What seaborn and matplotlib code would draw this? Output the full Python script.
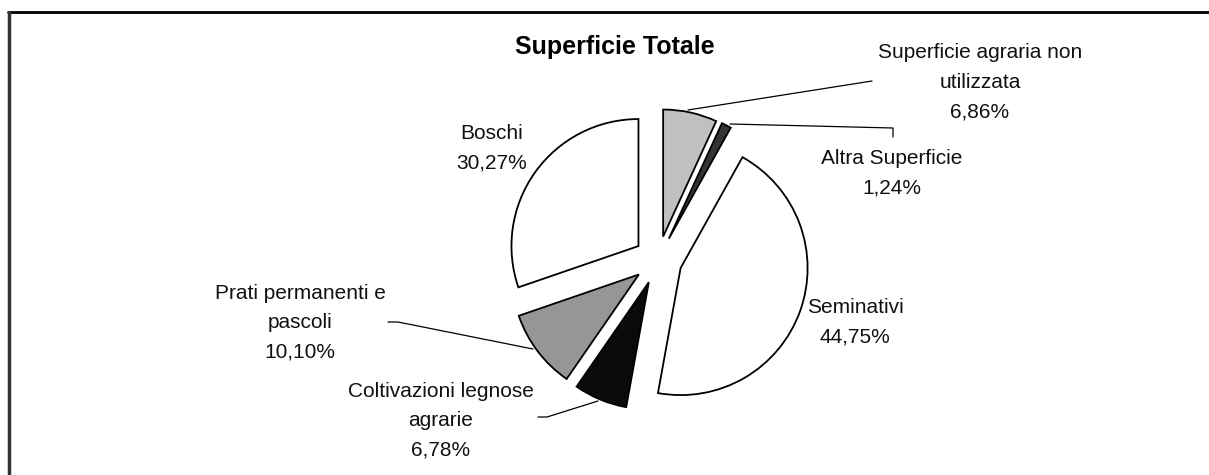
import matplotlib
matplotlib.use("Agg")
import matplotlib.pyplot as plt
import seaborn as sns

# ---- data ----
categories = [
    "Superficie agraria non\nutilizzata",
    "Altra Superficie",
    "Seminativi",
    "Coltivazioni legnose\nagrarie",
    "Prati permanenti e\npascoli",
    "Boschi",
]
values = [6.86, 1.24, 44.75, 6.78, 10.10, 30.27]
colors = ["#c0c0c0", "#333333", "#ffffff", "#0a0a0a", "#969696", "#ffffff"]
title = "Superficie Totale"

sns.set_theme(style="white")
plt.rcParams["font.family"] = ["Liberation Sans", "DejaVu Sans"]

W, H = 1209, 475
fig = plt.figure(figsize=(W / 100, H / 100), dpi=100)
ax = fig.add_axes([0, 0, 1, 1])


def Y(y):
    return H - y


# pie layout (pixel units)
cx, cy, R, expl = 658, 260, 127, 24
ax.pie(values, colors=colors, startangle=90, counterclock=False,
       center=(cx, Y(cy)), radius=R, explode=[expl] * len(values),
       wedgeprops=dict(edgecolor="black", linewidth=1.3), frame=True)
ax.set_xlim(0, W)
ax.set_ylim(0, H)
ax.set_aspect("equal")
ax.axis("off")

# labels
label_pos = [(980, 82), (892, 173), (855, 322), (441, 421), (300, 323), (492, 148)]
for name, v, (lx, ly) in zip(categories, values, label_pos):
    pct = f"{v:.2f}".replace(".", ",") + "%"
    ax.text(lx, Y(ly), f"{name}\n{pct}", ha="center", va="center",
            fontsize=15, color="#111111", linespacing=1.7)

# leader lines
leaders = [
    [(688, 110), (872, 81)],
    [(730, 124), (893, 128), (893, 137)],
    [(388, 322), (398, 322), (533, 349)],
    [(538, 417), (547, 417), (598, 401)],
]
for pts in leaders:
    ax.plot([p[0] for p in pts], [Y(p[1]) for p in pts], color="black", lw=0.9)

# title
ax.text(615, Y(47), title, ha="center", va="center", fontsize=18,
        fontweight="bold", color="black")

# frame (top and left)
ax.plot([8, W], [Y(12), Y(12)], color="black", lw=2, clip_on=False)
ax.plot([8.5, 8.5], [Y(12), 0], color="#333333", lw=2.5, clip_on=False)

fig.savefig("out.png", dpi=100, facecolor="white")
